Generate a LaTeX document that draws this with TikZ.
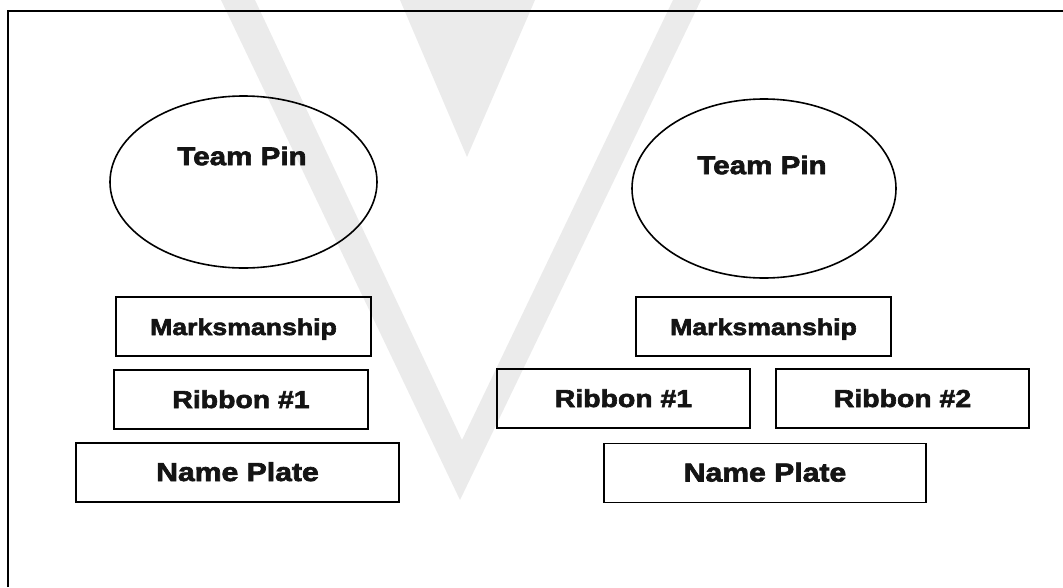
\documentclass[tikz,border=0pt]{standalone}
\usepackage{fontspec}
\setmainfont{Liberation Sans}[BoldFeatures={FakeStretch=1.16,FakeBold=2.6}]
\usetikzlibrary{shapes.geometric}

\begin{document}
\begin{tikzpicture}[x=1pt,y=-1pt,
  pin/.style={draw,ellipse,line width=1.6pt,inner sep=0pt},
  slot/.style={draw,rectangle,line width=1.6pt,inner sep=0pt,minimum height=59pt,
    text height=17pt,text depth=0pt},
  tag/.style={font=\bfseries\fontsize{#1}{#1}\selectfont,text=black!92}]
\useasboundingbox (0,0) rectangle (1063,587);
% Watermark
\fill[black!8] (221,0) -- (460,500) -- (701,0) -- (673,0) -- (462,440) -- (255,0) -- cycle;
\fill[black!8] (400,0) -- (535,0) -- (467,157) -- cycle;
% Frame
\draw[line width=1.6pt] (8,587) -- (8,11) -- (1063,11);
% Left uniform
\node[pin,minimum width=267pt,minimum height=172pt] (pinL) at (243.5,182) {};
\node[tag=25.5] (pinLtxt) at (242,156) {Team Pin};
\node[slot,tag=23,minimum width=255pt] (markL) at (243.5,326.5) {Marksmanship};
\node[slot,tag=24.5,minimum width=254pt] (ribbonL) at (241,399.5) {Ribbon \#1};
\node[slot,tag=26,minimum width=323pt] (nameL) at (237.5,472.5) {Name Plate};
% Right uniform
\node[pin,minimum width=264pt,minimum height=179pt] (pinR) at (764,188.5) {};
\node[tag=25.5] (pinRtxt) at (762,165) {Team Pin};
\node[slot,tag=23,minimum width=255pt] (markR) at (763.5,326.5) {Marksmanship};
\node[slot,tag=24.5,minimum width=253pt] (ribbonRa) at (623.5,398.5) {Ribbon \#1};
\node[slot,tag=24.5,minimum width=253pt] (ribbonRb) at (902.5,398.5) {Ribbon \#2};
\node[slot,tag=26,minimum width=322pt] (nameR) at (765,473) {Name Plate};
\end{tikzpicture}
\end{document}
